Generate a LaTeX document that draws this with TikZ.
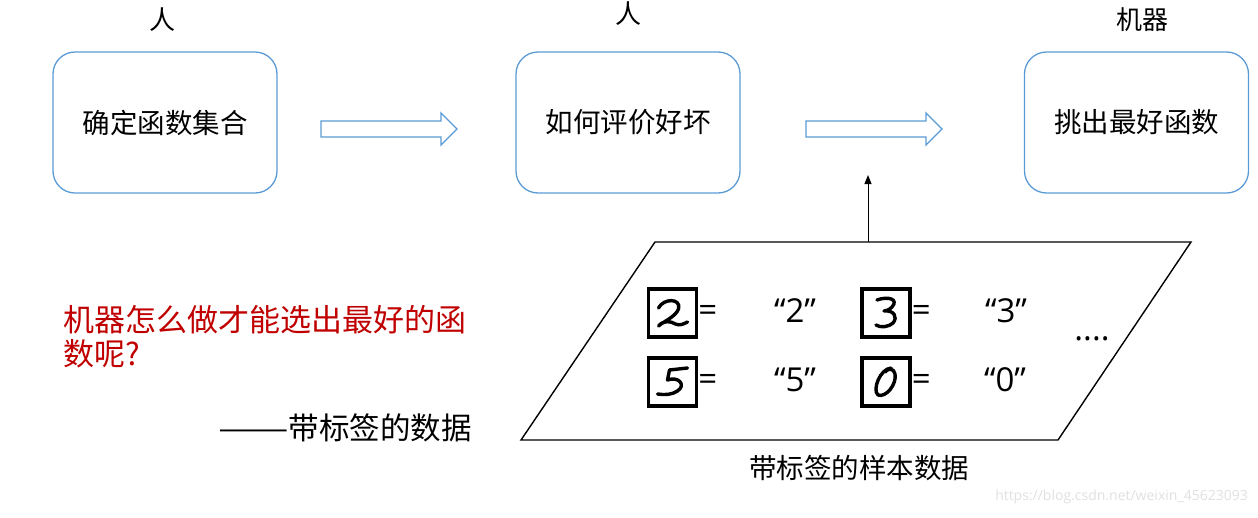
\documentclass[tikz,border=0pt]{standalone}
\usepackage{fontspec}
\newfontfamily\cjk{Noto Sans CJK SC}
\newfontfamily\lat{Open Sans}
\usetikzlibrary{arrows.meta}
\definecolor{boxblue}{RGB}{91,155,213}
\definecolor{redtxt}{RGB}{192,0,0}
\begin{document}
\begin{tikzpicture}[x=1pt,y=-1pt,
  stepbox/.style={draw=boxblue,line width=1.3pt,rounded corners=22pt,minimum width=224pt,minimum height=141pt,inner sep=0pt,font=\cjk\fontsize{27.5}{30}\selectfont},
  toplabel/.style={font=\cjk\fontsize{26}{30}\selectfont,inner sep=0pt},
  blockarrow/.style={draw=boxblue,line width=1.3pt,fill=white},
  digitbox/.style={draw=black,line width=3.2pt,minimum width=48pt,minimum height=48pt,inner sep=0pt},
  hand/.style={line width=3.4pt,line cap=round,line join=round},
  quoted/.style={font=\lat\fontsize{33}{36}\selectfont,inner sep=0pt},
  eqs/.style={font=\lat\fontsize{33}{36}\selectfont,inner sep=0pt},
]
\useasboundingbox (0,0) rectangle (1258,517);

% main boxes
\node[stepbox] (b1) at (165,122.5) {确定函数集合};
\node[stepbox] (b2) at (628,122.5) {如何评价好坏};
\node[stepbox] (b3) at (1136.5,122.5) {挑出最好函数};

\node[toplabel] (l1) at (162,20) {人};
\node[toplabel] (l2) at (628,14) {人};
\node[toplabel] (l3) at (1142,20) {机器};

% block arrows
\coordinate (a1) at (321,129);
\draw[blockarrow] (a1) ++(0,-8) -- ++(120,0) -- ++(0,-8) -- ++(16,16) -- ++(-16,16) -- ++(0,-8) -- ++(-120,0) -- cycle;
\coordinate (a2) at (806,129);
\draw[blockarrow] (a2) ++(0,-8) -- ++(120,0) -- ++(0,-8) -- ++(16,16) -- ++(-16,16) -- ++(0,-8) -- ++(-120,0) -- cycle;

% parallelogram
\coordinate (p1) at (655,242);
\coordinate (p2) at (1191,242);
\coordinate (p3) at (1058,440);
\coordinate (p4) at (521,440);
\draw[line width=1.4pt] (p1) -- (p2) -- (p3) -- (p4) -- cycle;

\coordinate (up) at (868,242);
\coordinate (uptip) at (868,175);
\draw[line width=1pt,-{Triangle[length=9pt,width=7pt]}] (up) -- (uptip);

% digit boxes
\node[digitbox] (d2) at (672.5,313) {};
\node[digitbox] (d3) at (886,313) {};
\node[digitbox] (d5) at (672.5,382) {};
\node[digitbox] (d0) at (886,382) {};

\begin{scope}[shift={(d2.center)}]
\draw[hand] (-14,-5) .. controls (-9,-15) and (9,-15) .. (6,-4) .. controls (3,4) and (-10,9) .. (-14,13) .. controls (-9,7) and (-2,8) .. (3,11) .. controls (7,13) and (11,11) .. (15,9);
\end{scope}
\begin{scope}[shift={(d3.center)}]
\draw[hand] (-9,-13) .. controls (2,-17) and (13,-14) .. (6,-6) .. controls (3,-3) and (0,-2) .. (-2,-2) .. controls (8,-3) and (12,4) .. (7,10) .. controls (3,14) and (-6,15) .. (-10,12);
\end{scope}
\begin{scope}[shift={(d5.center)}]
\draw[hand] (-3,-12) -- (15,-14);
\draw[hand] (-3,-12) -- (-5,-2) .. controls (6,-6) and (14,3) .. (5,9) .. controls (-1,13) and (-8,13) .. (-15,12);
\end{scope}
\begin{scope}[shift={(d0.center)}]
\draw[hand] (5,-14) .. controls (-6,-13) and (-14,8) .. (-8,13) .. controls (0,16) and (11,2) .. (9,-8) .. controls (8,-14) and (2,-14) .. (-1,-10);
\end{scope}

% equals and labels
\node[eqs,anchor=west] (e2) at (d2.east) {=};
\node[eqs,anchor=west] (e3) at (d3.east) {=};
\node[eqs,anchor=west] (e5) at (d5.east) {=};
\node[eqs,anchor=west] (e0) at (d0.east) {=};
\node[quoted] (q2) at (795,311) {“2”};
\node[quoted] (q3) at (1006,311) {“3”};
\node[quoted] (q5) at (795,380) {“5”};
\node[quoted] (q0) at (1005,380) {“0”};
\node[quoted] (dots) at (1092,339) {....};

\node[font=\cjk\fontsize{27.5}{30}\selectfont,inner sep=0pt] (cap) at (859,468) {带标签的样本数据};

% red question
\node[font=\cjk\fontsize{31}{34}\selectfont,text=redtxt,inner sep=0pt,anchor=west,align=left] (q) at (63,337) {机器怎么做才能选出最好的函\\数呢?};

\node[font=\cjk\fontsize{30.5}{34}\selectfont,inner sep=0pt,anchor=west] (ans) at (218,428) {\scalebox{1.38}[1]{——}带标签的数据};

\node[font=\lat\fontsize{14}{16}\selectfont,text=black!12,inner sep=0pt,anchor=east] (wm) at (1248,497) {https://blog.csdn.net/weixin\_45623093};
\end{tikzpicture}
\end{document}
